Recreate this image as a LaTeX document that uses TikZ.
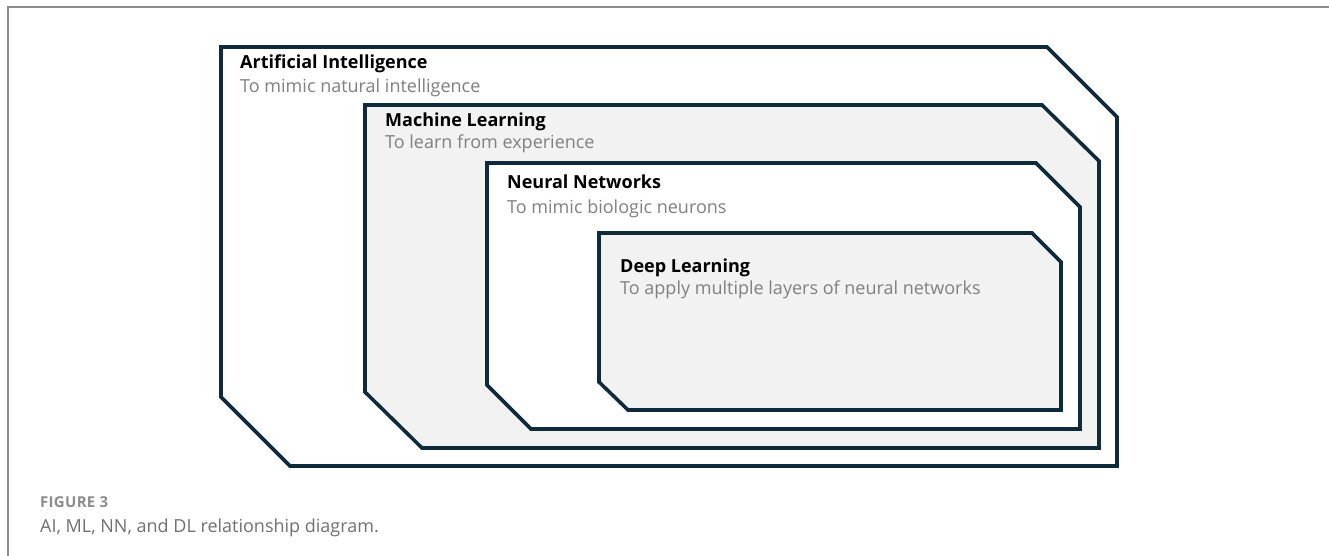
\documentclass[tikz,border=0pt]{standalone}
\usepackage{fontspec}
\setmainfont{Open Sans}
\definecolor{edge}{HTML}{0F2A3A}
\definecolor{boxfill}{HTML}{F2F2F2}
\definecolor{subgray}{HTML}{808080}
\definecolor{framegray}{HTML}{8C8C8C}
\definecolor{capgray}{HTML}{707070}
\tikzset{
  layer/.style={draw=edge, line width=3.6pt, line join=miter},
  ttl/.style={anchor=base west, inner sep=0pt, font=\fontsize{18}{20}\selectfont\bfseries, text=black},
  sub/.style={anchor=base west, inner sep=0pt, font=\fontsize{18}{20}\selectfont, text=subgray},
}
\begin{document}
\begin{tikzpicture}[x=1pt,y=-1pt]
\useasboundingbox (0,0) rectangle (1329,556);
\draw[framegray, line width=2pt] (1329,7) -- (7.5,7) -- (7.5,556);
% AI
\draw[layer, fill=white] (221,47) -- (1047,47) -- (1117,117) -- (1117,466) -- (290,466) -- (221,397) -- cycle;
% ML
\draw[layer, fill=boxfill] (365,105) -- (1042,105) -- (1099,161) -- (1099,448) -- (422,448) -- (365,392) -- cycle;
% NN
\draw[layer, fill=white] (487,163) -- (1036,163) -- (1080,207) -- (1080,429) -- (531,429) -- (487,385) -- cycle;
% DL
\draw[layer, fill=boxfill] (599,233) -- (1032,233) -- (1061,262) -- (1061,410) -- (628,410) -- (599,382) -- cycle;
\node[ttl] (ait) at (240,69) {Artificial Intelligence};
\node[sub] (ais) at (240,93) {To mimic natural intelligence};
\node[ttl] (mlt) at (385,127) {Machine Learning};
\node[sub] (mls) at (385,149) {To learn from experience};
\node[ttl] (nnt) at (507,189) {Neural Networks};
\node[sub] (nns) at (507,213) {To mimic biologic neurons};
\node[ttl] (dlt) at (620,272) {Deep Learning};
\node[sub] (dls) at (620,294) {To apply multiple layers of neural networks};
\node[anchor=base west, inner sep=0pt, font=\addfontfeatures{LetterSpace=2}\fontsize{15}{17}\selectfont\bfseries, text=framegray] (figl) at (40,507) {FIGURE 3};
\node[anchor=base west, inner sep=0pt, font=\fontsize{18}{20}\selectfont, text=capgray] (cap) at (40,532) {AI, ML, NN, and DL relationship diagram.};
\end{tikzpicture}
\end{document}
